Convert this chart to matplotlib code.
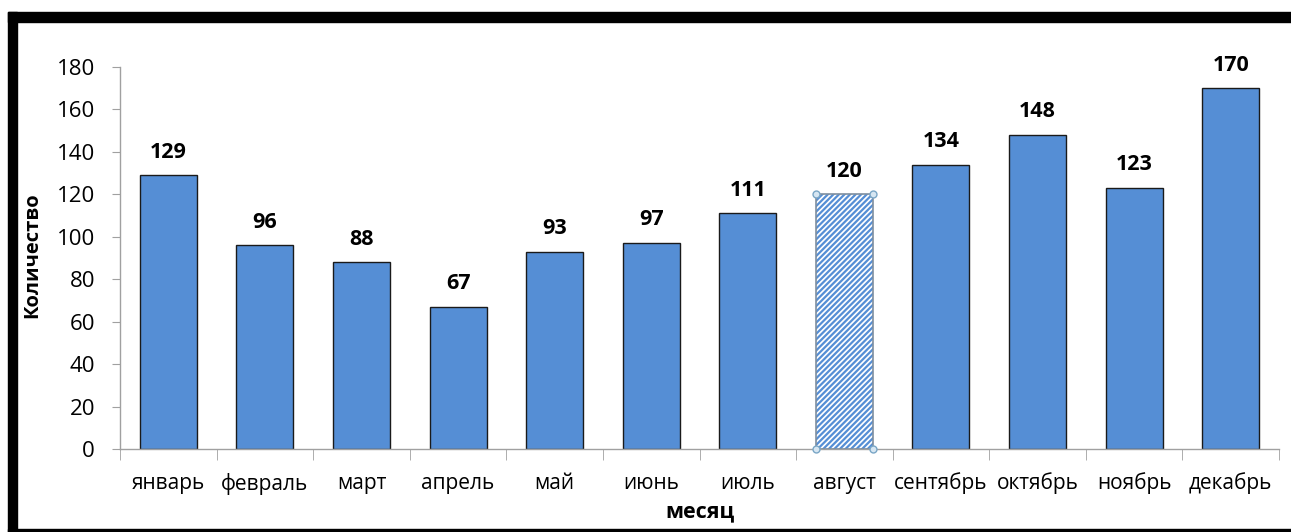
import matplotlib
matplotlib.use("Agg")
import matplotlib.pyplot as plt
from matplotlib.patches import Rectangle

months = ["январь", "февраль", "март", "апрель", "май", "июнь",
          "июль", "август", "сентябрь", "октябрь", "ноябрь", "декабрь"]
counts = [129, 96, 88, 67, 93, 97, 111, 120, 134, 148, 123, 170]
hatched = "август"

blue = "#558ed5"
plt.rcParams["font.family"] = ["Open Sans", "DejaVu Sans"]
plt.rcParams["hatch.linewidth"] = 1.6
plt.rcParams["hatch.color"] = blue

fig = plt.figure(figsize=(12.91, 5.32), dpi=100)
ax = fig.add_axes([0.093, 0.156, 0.8977, 0.718])

x = list(range(len(months)))
w = 0.59
for i, (m, v) in enumerate(zip(months, counts)):
    if m == hatched:
        ax.bar(i, v, width=w, color="white", edgecolor=blue, hatch="//////", linewidth=0, zorder=2)
        ax.bar(i, v, width=w, color="none", edgecolor="#7f8f9f", linewidth=1.2, zorder=3)
        ax.plot([i - w / 2, i + w / 2, i - w / 2, i + w / 2], [0, 0, v, v], "o", ms=5,
                mfc="#d6e6f2", mec="#7aa6c6", mew=1, zorder=4, clip_on=False)
    else:
        ax.bar(i, v, width=w, color=blue, edgecolor="#1a1a1a", linewidth=1, zorder=2)
    ax.text(i, v + 6, str(v), ha="center", va="bottom", fontsize=15.5, fontweight="bold")

ax.set_xlim(-0.5, len(months) - 0.5)
ax.set_ylim(0, 180)
ax.set_yticks(range(0, 181, 20))
ax.set_xticks(x)
ax.set_xticklabels(months)
ax.set_xticks([i - 0.5 for i in range(len(months) + 1)], minor=True)
ax.tick_params(axis="x", which="major", length=0, pad=17, labelsize=15)
ax.tick_params(axis="x", which="minor", length=8, color="#a0a0a0", direction="out")
ax.tick_params(axis="y", length=6, color="#a0a0a0", labelsize=16, pad=12)
for s in ["top", "right"]:
    ax.spines[s].set_visible(False)
for s in ["left", "bottom"]:
    ax.spines[s].set_color("#a0a0a0")
    ax.spines[s].set_linewidth(1)

fig.text(0.025, 0.52, "Количество", rotation=90, ha="center", va="center",
         fontsize=14.5, fontweight="bold")
fig.text(0.542, 0.038, "месяц", ha="center", va="center", fontsize=15.5, fontweight="bold")

# frame round the chart
fig.patches.append(Rectangle((0.0062, 0.0), 0.0070, 0.978, transform=fig.transFigure,
                             color="black", zorder=10))
fig.patches.append(Rectangle((0.0062, 0.958), 1.0, 0.020, transform=fig.transFigure,
                             color="black", zorder=10))
fig.patches.append(Rectangle((0.0062, 0.0), 1.0, 0.005, transform=fig.transFigure,
                             color="black", zorder=10))

fig.savefig("out.png", dpi=100)
